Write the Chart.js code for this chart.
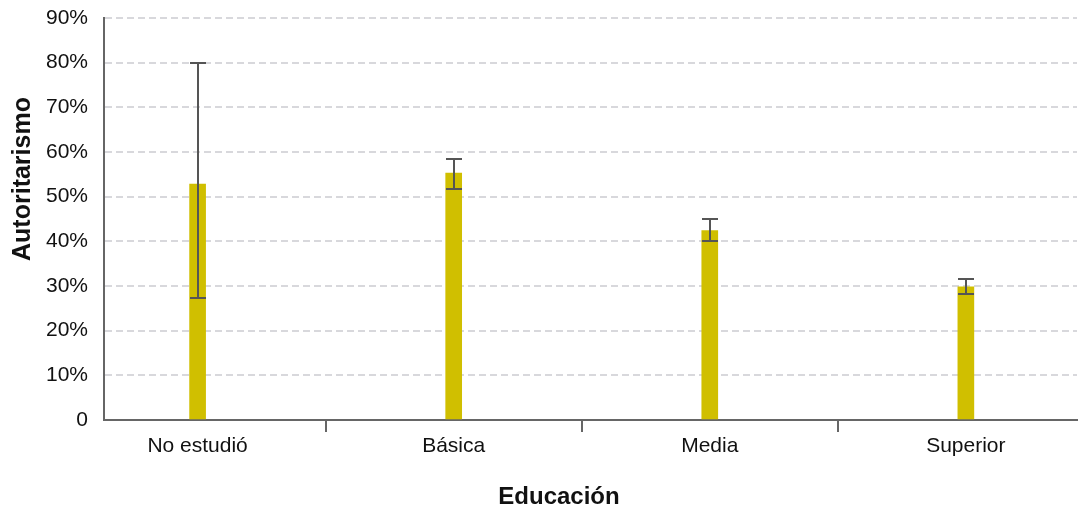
<!DOCTYPE html>
<html>
<head>
<meta charset="utf-8">
<script src="https://cdn.jsdelivr.net/npm/chart.js@4/dist/chart.umd.min.js"></script>
<style>
  html, body { margin: 0; padding: 0; background: #ffffff; }
  #wrap { width: 1085px; height: 512px; position: relative; }
</style>
</head>
<body>
<div id="wrap"><canvas id="c" width="1085" height="512"></canvas></div>
<script>
const categories = ['No estudió', 'Básica', 'Media', 'Superior'];
const values = [52.8, 55.3, 42.4, 29.8];
const errLow = [27.4, 51.7, 40.0, 28.2];
const errHigh = [80.0, 58.5, 45.0, 31.6];
const yTicks = [0, 10, 20, 30, 40, 50, 60, 70, 80, 90];
const xTitle = 'Educación';
const yTitle = 'Autoritarismo';

const barColor = '#D0BF00';
const axisColor = '#666666';
const errColor = '#555555';

const errorBarsPlugin = {
  id: 'errorBars',
  afterDatasetsDraw(chart) {
    const ctx = chart.ctx;
    const xs = chart.scales.x, ys = chart.scales.y;
    ctx.save();
    ctx.strokeStyle = errColor;
    ctx.lineWidth = 2;
    for (let i = 0; i < categories.length; i++) {
      const x = Math.round(xs.getPixelForValue(i));
      const yl = Math.round(ys.getPixelForValue(errLow[i]));
      const yh = Math.round(ys.getPixelForValue(errHigh[i]));
      ctx.beginPath();
      ctx.moveTo(x, yl); ctx.lineTo(x, yh);
      ctx.moveTo(x - 8, yl); ctx.lineTo(x + 8, yl);
      ctx.moveTo(x - 8, yh); ctx.lineTo(x + 8, yh);
      ctx.stroke();
    }
    ctx.restore();
  }
};

const extrasPlugin = {
  id: 'extras',
  afterDraw(chart) {
    const ctx = chart.ctx;
    const xs = chart.scales.x;
    const area = chart.chartArea;
    ctx.save();
    ctx.strokeStyle = axisColor;
    ctx.lineWidth = 2;
    for (let i = 0; i < categories.length - 1; i++) {
      const x = Math.round(xs.getPixelForValue(i + 0.5));
      ctx.beginPath();
      ctx.moveTo(x, area.bottom);
      ctx.lineTo(x, area.bottom + 12);
      ctx.stroke();
    }
    ctx.fillStyle = '#111111';
    ctx.textAlign = 'center';
    ctx.textBaseline = 'middle';
    ctx.font = 'bold 24px "Liberation Sans", Arial, sans-serif';
    ctx.fillText(xTitle, 559, 497);
    ctx.font = 'bold 25px "Liberation Sans", Arial, sans-serif';
    ctx.translate(23, 179);
    ctx.rotate(-Math.PI / 2);
    ctx.fillText(yTitle, 0, 0);
    ctx.restore();
  }
};

new Chart(document.getElementById('c'), {
  type: 'bar',
  data: {
    datasets: [{
      data: values.map((v, i) => ({ x: i, y: v })),
      backgroundColor: barColor,
      borderWidth: 0,
      barThickness: 16
    }]
  },
  options: {
    responsive: false,
    animation: false,
    devicePixelRatio: 1,
    layout: { padding: { top: 18, right: 8, left: 0, bottom: 0 } },
    plugins: { legend: { display: false }, tooltip: { enabled: false } },
    scales: {
      x: {
        type: 'linear',
        offset: false,
        min: -0.3655,
        max: 3.434,
        afterBuildTicks(scale) { scale.ticks = categories.map((c, i) => ({ value: i })); },
        afterFit(scale) { scale.height = 92; scale.paddingLeft = 0; scale.paddingRight = 0; },
        grid: { display: false },
        border: { display: true, color: axisColor, width: 2 },
        ticks: {
          callback: (v) => categories[v] !== undefined ? categories[v] : '',
          color: '#111111',
          font: { family: '"Liberation Sans Narrow", "Liberation Sans", Arial, sans-serif', size: 21 },
          padding: 6,
          maxRotation: 0,
          autoSkip: false
        }
      },
      y: {
        min: 0,
        max: 90,
        afterBuildTicks(scale) { scale.ticks = yTicks.map(v => ({ value: v })); },
        afterFit(scale) { scale.width = 104; scale.paddingTop = 0; scale.paddingBottom = 0; },
        grid: {
          color: (ctx) => ctx.tick && ctx.tick.value === 0 ? 'rgba(0,0,0,0)' : '#d8d8dc',
          lineWidth: 2,
          drawTicks: false
        },
        border: { display: true, color: axisColor, width: 2, dash: [7, 4] },
        ticks: {
          callback: (v) => v === 0 ? '0' : v + '%',
          color: '#111111',
          font: { family: '"Liberation Sans", Arial, sans-serif', size: 21 },
          padding: 16
        }
      }
    }
  },
  plugins: [errorBarsPlugin, extrasPlugin]
});
</script>
</body>
</html>
